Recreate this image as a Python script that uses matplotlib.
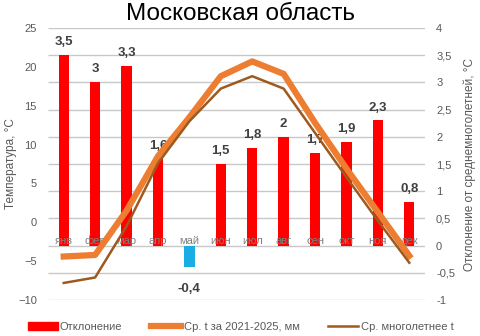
import numpy as np
import matplotlib.pyplot as plt

plt.rcParams['font.family'] = ['Liberation Sans', 'DejaVu Sans']

months = ["янв", "фев", "мар", "апр", "май", "июн", "июл", "авг", "сен", "окт", "ноя", "дек"]
deviation = [3.5, 3.0, 3.3, 1.6, -0.4, 1.5, 1.8, 2.0, 1.7, 1.9, 2.3, 0.8]
t_recent = [-4.4, -4.2, 1.5, 8.5, 13.5, 18.8, 20.7, 19.1, 12.8, 6.9, 1.3, -4.3]
t_norm = [-7.8, -7.1, -0.5, 7.6, 13.0, 17.2, 18.8, 17.2, 11.5, 5.8, 0.2, -5.2]

x = np.arange(len(months))
grey = "#595959"
right_ticks = np.arange(-1, 4.01, 0.5)

fig = plt.figure(figsize=(4.81, 3.36), dpi=100)
ax = fig.add_axes([0.0998, 0.107, 0.7838, 0.8097])   # bars, right scale
ax2 = ax.twinx()                                       # temperatures, left scale

# deviation bars
colors = ["#1AADE4" if v < 0 else "#FF0000" for v in deviation]
ax.bar(x, deviation, width=0.33, color=colors, zorder=2)
for i, v in enumerate(deviation):
    lbl = ("%g" % v).replace(".", ",")
    off = 5 if v >= 0 else -11
    ax.annotate(lbl, (i, v), xytext=(0, off), textcoords="offset points",
                ha="center", va="bottom" if v >= 0 else "top",
                fontsize=9.5, fontweight="bold", color="#404040")
    ax.text(i, 0.0, months[i], ha="center", va="bottom", fontsize=8, color="#7f7f7f", zorder=3)

ax.set_ylim(-1, 4)
ax.set_yticks(right_ticks)
ax.set_yticklabels([("%g" % v).replace(".", ",") for v in right_ticks])
ax.set_xlim(-0.5, 11.5)
ax.set_xticks([])
ax.yaxis.tick_right()
ax.yaxis.set_label_position("right")
ax.set_ylabel("Отклонение от среднемноголетней, °С", color=grey, fontsize=8.5, labelpad=6)

# horizontal gridlines behind the bars
ax.hlines(right_ticks, -0.5, 11.5, colors="#c8c8c8", linewidth=1.0, zorder=1)

# temperature lines
ax2.plot(x, t_recent, color="#ED7D31", lw=4.5, solid_joinstyle="round", label="Ср. t за 2021-2025, мм")
ax2.plot(x, t_norm, color="#9E5A1E", lw=1.8, label="Ср. многолетнее t")
ax2.set_ylim(-10, 25)
ax2.yaxis.tick_left()
ax2.yaxis.set_label_position("left")
ax2.set_ylabel("Температура, °С", color=grey, fontsize=8.5, labelpad=1)

for a in (ax, ax2):
    for s in a.spines.values():
        s.set_visible(False)
    a.tick_params(length=0, labelsize=8, labelcolor=grey, pad=8)

fig.text(0.5, 0.958, "Московская область", ha="center", va="center", fontsize=17.5, color="black")

handles = [plt.Rectangle((0, 0), 1, 1, color="#FF0000")] + ax2.get_lines()
labels = ["Отклонение", "Ср. t за 2021-2025, мм", "Ср. многолетнее t"]
fig.legend(handles, labels, loc="center", bbox_to_anchor=(0.5, 0.028), ncol=3, frameon=False,
           fontsize=8, labelcolor=grey, handlelength=2.7, handletextpad=0.2, columnspacing=2.6)

fig.savefig("out.png", dpi=100)
